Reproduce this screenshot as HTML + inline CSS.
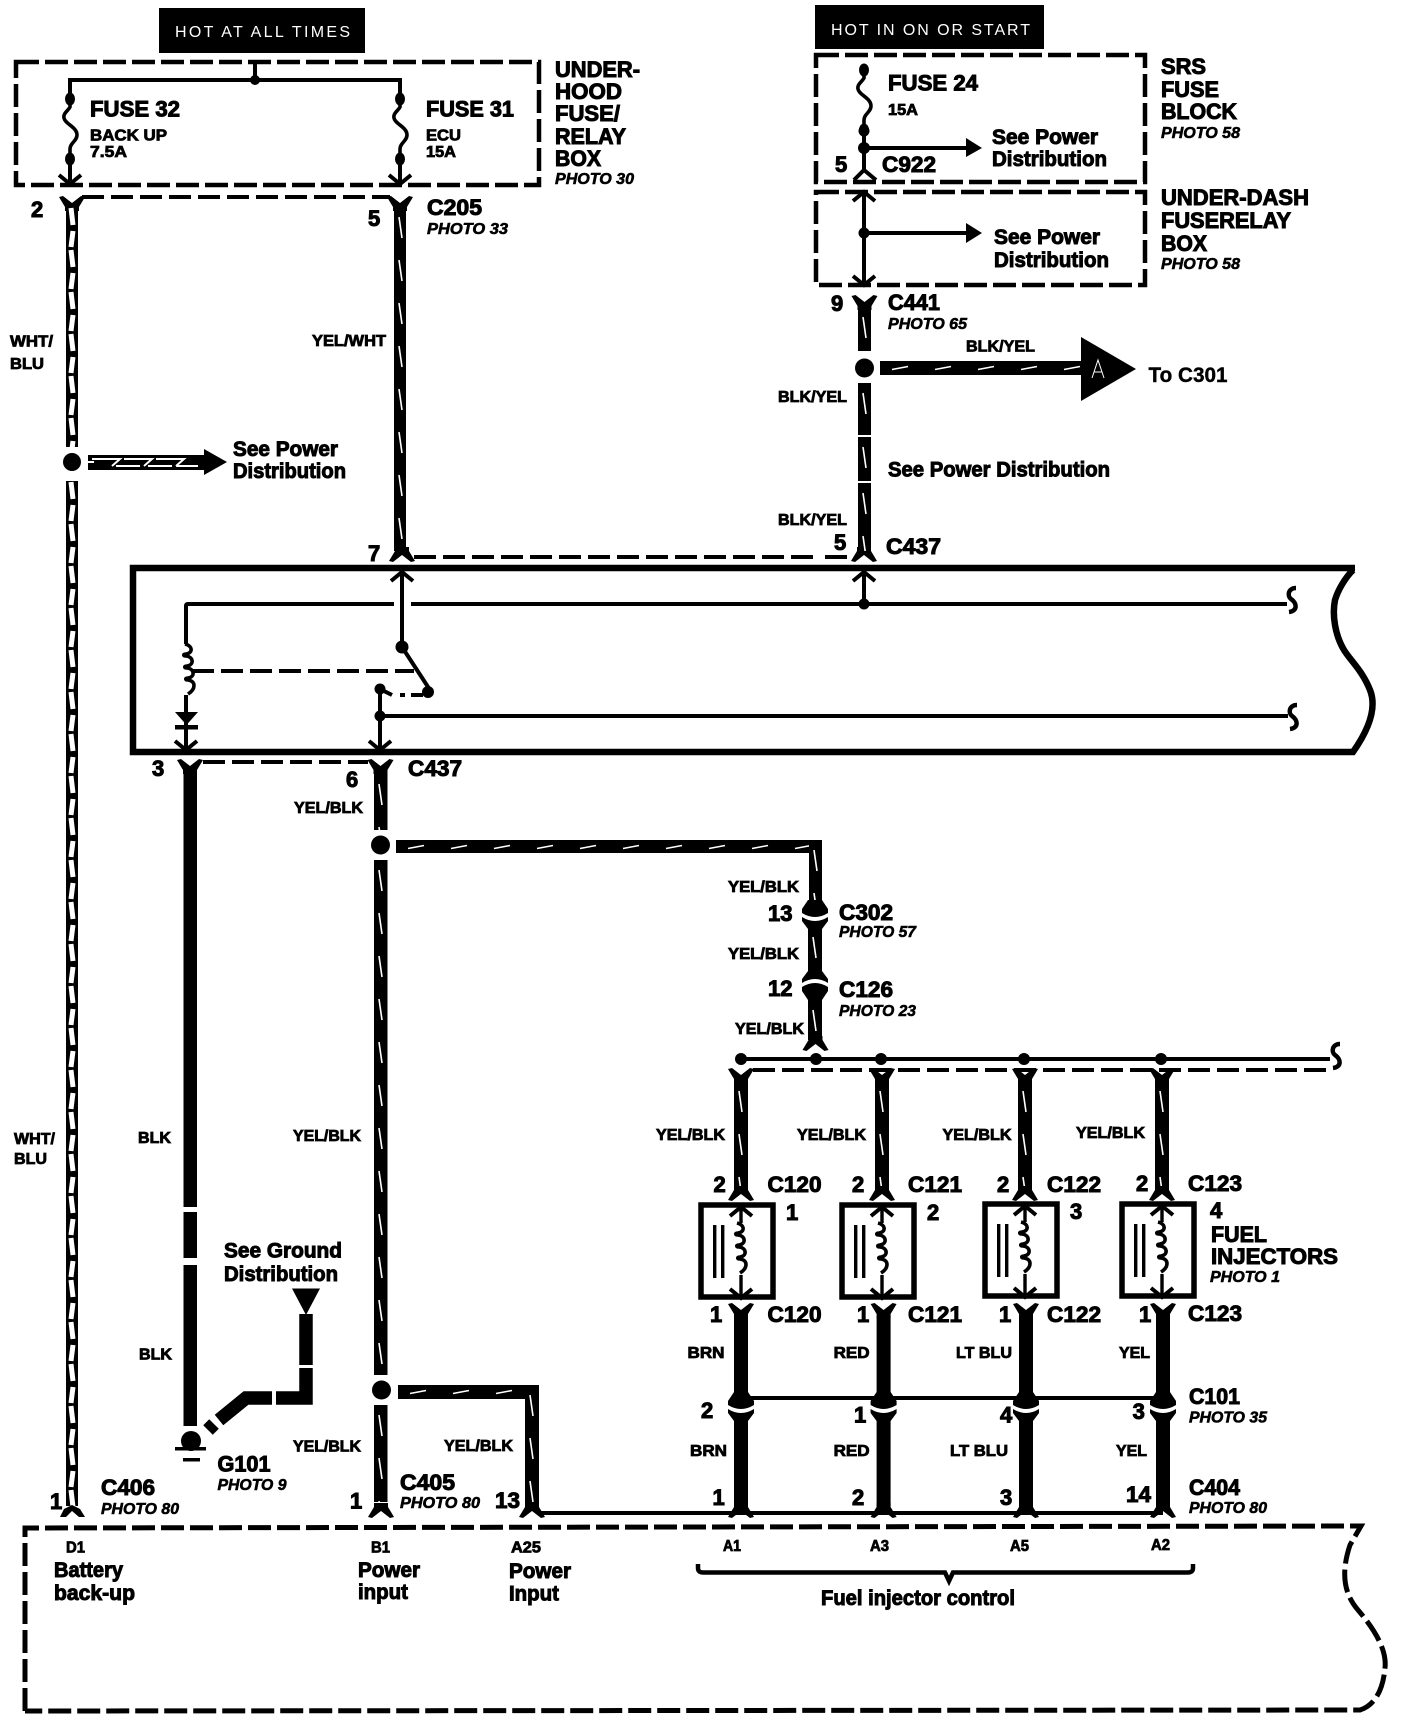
<!DOCTYPE html>
<html><head><meta charset="utf-8"><style>
html,body{margin:0;padding:0;background:#fff;width:1408px;height:1722px;overflow:hidden}
svg{display:block}
text{font-family:"Liberation Sans",sans-serif;font-weight:bold;fill:#000;stroke:#000;stroke-width:1}
.h{font-size:22px}.m{font-size:21.5px}.s{font-size:16px;stroke-width:.8}.p{font-size:16px;font-style:italic;stroke-width:.6}
.w{font-weight:normal;fill:#fff;stroke:none;font-size:16px}
.l{fill:none;stroke:#000;stroke-width:4}
.d{fill:none;stroke:#000;stroke-width:4;stroke-dasharray:22 7}
.bx{fill:none;stroke:#000;stroke-width:4.5;stroke-dasharray:23 6}
</style></head><body>
<svg width="1408" height="1722" viewBox="0 0 1408 1722" xmlns="http://www.w3.org/2000/svg">
<defs>
<pattern id="vw" patternUnits="userSpaceOnUse" width="14" height="43"><rect width="14" height="43" fill="#000"/><path d="M5,10 L8,31" stroke="#fff" stroke-width="1.6"/></pattern>
<pattern id="hw" patternUnits="userSpaceOnUse" width="43" height="14"><rect width="43" height="14" fill="#000"/><path d="M12,8.5 L28,5.5" stroke="#fff" stroke-width="1.6"/></pattern>
<pattern id="wb" patternUnits="userSpaceOnUse" width="12" height="42"><rect width="12" height="42" fill="#000"/><path d="M5,1 L7,18 M7,24 L5,40" fill="none" stroke="#fff" stroke-width="5"/></pattern>
<path id="ad" d="M-11,-9 L0,0 L11,-9" fill="none" stroke="#000" stroke-width="4"/>
<path id="au" d="M-11,9 L0,0 L11,9" fill="none" stroke="#000" stroke-width="4"/>
<path id="ft" d="M-13,0 L-9,-1 L0,6 L9,-1 L13,0 L7,10 L7,14 L-7,14 L-7,10 Z" fill="#000"/>
<path id="fb" d="M-13,0 L-9,1 L0,-6 L9,1 L13,0 L7,-10 L7,-14 L-7,-14 L-7,-10 Z" fill="#000"/>
<path id="cc" d="M-7,-13 L-13,-4 L-13,0 Q0,8 13,0 L13,-4 L7,-13 Z M-13,4 Q0,12 13,4 L13,8 L7,16 L-7,16 L-13,8 Z" fill="#000"/>
<path id="coil" d="M0,0 c8,2 8,9 1,10 c-3,0 -3,2 0,2 c8,1 8,9 1,10 c-3,0 -3,2 0,2 c8,1 8,9 1,10 c-3,0 -3,2 0,2 c8,1 8,9 0,14" fill="none" stroke="#000" stroke-width="3.6"/>
<g id="fuse"><ellipse cx="0" cy="0" rx="5" ry="6.5"/><ellipse cx="0" cy="60" rx="5" ry="6.5"/><path d="M0,0 L0,8 C-2,12 -7,14 -6,19 C-5,25 7,28 7,36 C7,42 0,44 0,50 L0,60" fill="none" stroke="#000" stroke-width="3.6"/></g>
<g id="inj"><rect x="-40" y="0" width="72" height="92" fill="none" stroke="#000" stroke-width="5.5"/><path d="M0,1 V18 M0,70 V93" stroke="#000" stroke-width="3.4"/><use href="#coil" x="-4" y="18"/><path d="M-11,11 L0,2 L11,11 M-11,84 L0,93 L11,84" fill="none" stroke="#000" stroke-width="4"/><rect x="-28" y="20" width="3.4" height="53"/><rect x="-20" y="20" width="3.4" height="53"/></g>
<path id="sq" d="M5,-13 C-3,-13 -4,-5 0,-2 C6,2 7,10 -2,11" fill="none" stroke="#000" stroke-width="4.5"/>
</defs>
<rect width="1408" height="1722" fill="#fff"/>

<!-- header boxes -->
<rect x="159" y="8" width="206" height="45"/>
<text class="w" x="175" y="37" textLength="175" lengthAdjust="spacing">HOT AT ALL TIMES</text>
<rect x="815" y="5" width="229" height="44"/>
<text class="w" x="831" y="35" textLength="199" lengthAdjust="spacing">HOT IN ON OR START</text>

<!-- under-hood box -->
<rect class="bx" x="16" y="62" width="523" height="123"/>
<path class="l" d="M255,62 V80 M70,100 V80 H400 V100"/>
<circle cx="255" cy="80" r="5"/>
<use href="#fuse" x="70" y="99"/><use href="#fuse" x="400" y="99"/>
<path class="l" d="M70,159 V184 M400,159 V184"/>
<use href="#ad" x="70" y="184"/><use href="#ad" x="400" y="184"/>
<text class="h" x="90" y="116.5" textLength="90" lengthAdjust="spacingAndGlyphs">FUSE 32</text>
<text class="s" x="90" y="140.5" textLength="77" lengthAdjust="spacingAndGlyphs">BACK UP</text>
<text class="s" x="90" y="157" textLength="37" lengthAdjust="spacingAndGlyphs">7.5A</text>
<text class="h" x="426" y="116.5" textLength="88" lengthAdjust="spacingAndGlyphs">FUSE 31</text>
<text class="s" x="426" y="140.5" textLength="35" lengthAdjust="spacingAndGlyphs">ECU</text>
<text class="s" x="426" y="157" textLength="30" lengthAdjust="spacingAndGlyphs">15A</text>
<text class="h" x="555" y="77" textLength="85" lengthAdjust="spacingAndGlyphs">UNDER-</text>
<text class="h" x="555" y="99" textLength="67" lengthAdjust="spacingAndGlyphs">HOOD</text>
<text class="h" x="555" y="121" textLength="65" lengthAdjust="spacingAndGlyphs">FUSE/</text>
<text class="h" x="555" y="144" textLength="71" lengthAdjust="spacingAndGlyphs">RELAY</text>
<text class="h" x="555" y="166" textLength="46" lengthAdjust="spacingAndGlyphs">BOX</text>
<text class="p" x="555" y="184" textLength="79" lengthAdjust="spacingAndGlyphs">PHOTO 30</text>

<!-- C205 row -->
<path class="d" d="M82,197 H390"/>
<use href="#ft" x="72" y="197"/><use href="#ft" x="400" y="197"/>
<text class="h" x="31" y="217">2</text>
<text class="h" x="368" y="226">5</text>
<text class="h" x="427" y="215" textLength="55" lengthAdjust="spacingAndGlyphs">C205</text>
<text class="p" x="427" y="234" textLength="81" lengthAdjust="spacingAndGlyphs">PHOTO 33</text>

<!-- WHT/BLU wire -->
<rect transform="translate(66,207)" width="12" height="240" fill="url(#wb)"/>
<rect transform="translate(66,481)" width="12" height="1025" fill="url(#wb)"/>
<circle cx="72" cy="462" r="9"/>
<text class="s" x="10" y="346.5" textLength="43" lengthAdjust="spacingAndGlyphs">WHT/</text>
<text class="s" x="10" y="369" textLength="34" lengthAdjust="spacingAndGlyphs">BLU</text>
<text class="s" x="14" y="1144" textLength="41" lengthAdjust="spacingAndGlyphs">WHT/</text>
<text class="s" x="14" y="1164" textLength="33" lengthAdjust="spacingAndGlyphs">BLU</text>
<!-- see power 1 -->
<rect x="88" y="455" width="116" height="15"/>
<path d="M92,459 H120 L112,466 M124,459 H152 L144,466 M116,466 H140 M156,459 H184 L176,466 M148,466 H172 M176,466 H198 M88,462 H94" fill="none" stroke="#fff" stroke-width="2"/>
<path d="M204,449 L227,462 L204,475 Z"/>
<text class="m" x="233" y="456" textLength="105" lengthAdjust="spacingAndGlyphs">See Power</text>
<text class="m" x="233" y="478" textLength="113" lengthAdjust="spacingAndGlyphs">Distribution</text>

<!-- YEL/WHT -->
<rect transform="translate(394,207)" width="12" height="344" fill="url(#vw)"/>
<text class="s" x="312" y="346" textLength="74" lengthAdjust="spacingAndGlyphs">YEL/WHT</text>
<use href="#fb" x="402" y="561"/>
<text class="h" x="368" y="561">7</text>
<path class="d" d="M414,557 H820 M825,557 H848"/>
<use href="#fb" x="864" y="561"/>

<!-- right column -->
<rect class="bx" x="816" y="55" width="329" height="127"/>
<rect class="bx" x="816" y="192" width="329" height="93"/>
<use href="#fuse" x="864" y="70"/>
<circle cx="864" cy="131" r="5.5"/><circle cx="864" cy="148" r="6"/>
<path class="l" d="M864,131 V171 M864,148 H968"/>
<path d="M966,138 L982,148 L966,157 Z"/>
<path d="M854,180 L864,170 L876,180" fill="none" stroke="#000" stroke-width="4"/>
<text class="h" x="888" y="90.5" textLength="90" lengthAdjust="spacingAndGlyphs">FUSE 24</text>
<text class="s" x="888" y="115" textLength="30" lengthAdjust="spacingAndGlyphs">15A</text>
<text class="m" x="992" y="144" textLength="106" lengthAdjust="spacingAndGlyphs">See Power</text>
<text class="m" x="992" y="166" textLength="115" lengthAdjust="spacingAndGlyphs">Distribution</text>
<text class="h" x="835" y="172">5</text>
<text class="h" x="882" y="172" textLength="54" lengthAdjust="spacingAndGlyphs">C922</text>
<text class="h" x="1161" y="74" textLength="45" lengthAdjust="spacingAndGlyphs">SRS</text>
<text class="h" x="1161" y="97" textLength="58" lengthAdjust="spacingAndGlyphs">FUSE</text>
<text class="h" x="1161" y="119" textLength="76" lengthAdjust="spacingAndGlyphs">BLOCK</text>
<text class="p" x="1161" y="138" textLength="79" lengthAdjust="spacingAndGlyphs">PHOTO 58</text>

<path class="l" d="M864,192 V285 M864,233 H968"/>
<use href="#au" x="864" y="192"/><use href="#ad" x="864" y="285"/>
<circle cx="864" cy="233" r="5.5"/>
<path d="M966,223 L982,233 L966,243 Z"/>
<text class="m" x="994" y="244" textLength="106" lengthAdjust="spacingAndGlyphs">See Power</text>
<text class="m" x="994" y="267" textLength="115" lengthAdjust="spacingAndGlyphs">Distribution</text>
<text class="h" x="1161" y="205" textLength="148" lengthAdjust="spacingAndGlyphs">UNDER-DASH</text>
<text class="h" x="1161" y="228" textLength="130" lengthAdjust="spacingAndGlyphs">FUSERELAY</text>
<text class="h" x="1161" y="251" textLength="46" lengthAdjust="spacingAndGlyphs">BOX</text>
<text class="p" x="1161" y="269" textLength="79" lengthAdjust="spacingAndGlyphs">PHOTO 58</text>

<use href="#ft" x="864.5" y="296"/>
<rect transform="translate(858,307)" width="13" height="44" fill="url(#vw)"/>
<circle cx="864.5" cy="368" r="9.5"/>
<rect transform="translate(858,383)" width="13" height="52" fill="url(#vw)"/>
<rect transform="translate(858,437)" width="13" height="44" fill="url(#vw)"/>
<rect transform="translate(858,483)" width="13" height="68" fill="url(#vw)"/>
<rect transform="translate(880,361)" width="202" height="14" fill="url(#hw)"/>
<path d="M1081,337 L1136,369 L1081,401 Z"/>
<path d="M1092,378 L1098,360 L1104,378 M1094,372 H1102" fill="none" stroke="#fff" stroke-width="1"/>
<text class="h" x="831" y="311">9</text>
<text class="h" x="888" y="310" textLength="52" lengthAdjust="spacingAndGlyphs">C441</text>
<text class="p" x="888" y="329" textLength="79" lengthAdjust="spacingAndGlyphs">PHOTO 65</text>
<text class="s" x="966" y="351.5" textLength="69" lengthAdjust="spacingAndGlyphs">BLK/YEL</text>
<text class="m" x="1148.5" y="382" textLength="79" lengthAdjust="spacingAndGlyphs" style="stroke-width:.4">To C301</text>
<text class="s" x="778" y="402" textLength="69" lengthAdjust="spacingAndGlyphs">BLK/YEL</text>
<text class="m" x="888" y="476.5" textLength="222" lengthAdjust="spacingAndGlyphs">See Power Distribution</text>
<text class="s" x="778" y="525" textLength="69" lengthAdjust="spacingAndGlyphs">BLK/YEL</text>
<text class="h" x="834" y="550">5</text>
<text class="h" x="886" y="554" textLength="55" lengthAdjust="spacingAndGlyphs">C437</text>

<!-- module box -->
<path d="M1355,568 H133 V752 H1353 C1372,725 1376,705 1370,690 C1362,670 1350,660 1344,650 C1335,635 1332,615 1335,600 C1338,590 1345,578 1353,570" fill="none" stroke="#000" stroke-width="6.5"/>
<use href="#au" x="402" y="572"/>
<path class="l" d="M402,572 V647 L430,690 M864,572 V604"/>
<use href="#au" x="864" y="572"/>
<circle cx="402" cy="647" r="6.5"/><circle cx="864" cy="604" r="5.5"/><circle cx="428" cy="692" r="6"/>
<path class="l" d="M186,644 V606 Q186,604 188,604 H394 M411,604 H1287"/>
<use href="#sq" x="1291" y="601"/>
<use href="#coil" x="185" y="644"/>
<path class="d" d="M192,671 H414"/>
<path class="d" d="M423,695 H400" style="stroke-dasharray:12 6"/>
<path class="l" d="M380,689 L392,695"/>
<circle cx="380" cy="689" r="5.5"/>
<path class="l" d="M380,689 V750 M380,716 H1288"/>
<circle cx="380" cy="716" r="5.5"/>
<use href="#sq" x="1292" y="718"/>
<use href="#ad" x="380" y="750"/>
<path class="l" d="M186,695 V750"/>
<path d="M175,712 H198 L186.500,725 Z"/><rect x="175" y="725" width="23" height="4.500"/>
<use href="#ad" x="186" y="750"/>

<!-- lower left wires -->
<use href="#ft" x="190" y="760"/><use href="#ft" x="380.500" y="760"/>
<path class="d" d="M203,762 H368"/>
<text class="h" x="152" y="776">3</text>
<text class="h" x="346" y="787">6</text>
<text class="h" x="408" y="776" textLength="54" lengthAdjust="spacingAndGlyphs">C437</text>
<text class="s" x="294" y="813" textLength="69" lengthAdjust="spacingAndGlyphs">YEL/BLK</text>
<rect x="183.500" y="772" width="13.500" height="435"/>
<rect x="183.500" y="1212" width="13.500" height="46"/>
<rect x="183.500" y="1265" width="13.500" height="161"/>
<text class="s" x="138" y="1143" textLength="33" lengthAdjust="spacingAndGlyphs">BLK</text>
<text class="s" x="139" y="1359.500" textLength="33" lengthAdjust="spacingAndGlyphs">BLK</text>
<rect transform="translate(374,774)" width="13.500" height="56" fill="url(#vw)"/>
<circle cx="380.500" cy="845" r="9.500"/>
<rect transform="translate(374,860)" width="13.500" height="515" fill="url(#vw)"/>
<circle cx="381.500" cy="1390" r="9.500"/>
<rect transform="translate(374,1405)" width="13.500" height="97" fill="url(#vw)"/>
<rect transform="translate(396,840)" width="426" height="13" fill="url(#hw)"/>
<rect transform="translate(809,840)" width="13" height="68" fill="url(#vw)"/>
<text class="s" x="293" y="1141" textLength="68" lengthAdjust="spacingAndGlyphs">YEL/BLK</text>
<text class="s" x="293" y="1451.500" textLength="68" lengthAdjust="spacingAndGlyphs">YEL/BLK</text>
<rect transform="translate(398,1385)" width="141" height="14" fill="url(#hw)"/>
<rect transform="translate(525,1385)" width="14" height="118" fill="url(#vw)"/>
<text class="s" x="444" y="1451" textLength="69" lengthAdjust="spacingAndGlyphs">YEL/BLK</text>

<!-- ground -->
<circle cx="191" cy="1441" r="10"/>
<rect x="175" y="1447" width="31" height="3.500"/><rect x="183" y="1458" width="17" height="3.500"/>
<path d="M208,1430 L214,1424 M219,1420 L246,1398 H272 M276,1398 H306 V1368 M306,1365 V1314" fill="none" stroke="#000" stroke-width="13.500"/>
<path d="M292,1288.500 H320 L306,1315 Z"/>
<text class="m" x="224" y="1257.500" textLength="118" lengthAdjust="spacingAndGlyphs">See Ground</text>
<text class="m" x="224" y="1281" textLength="114" lengthAdjust="spacingAndGlyphs">Distribution</text>
<text class="h" x="217.500" y="1471.500" textLength="53" lengthAdjust="spacingAndGlyphs">G101</text>
<text class="p" x="217.500" y="1490" textLength="69" lengthAdjust="spacingAndGlyphs">PHOTO 9</text>

<!-- C302 / C126 -->
<use href="#cc" x="815" y="913"/>
<rect transform="translate(808,927)" width="14" height="48" fill="url(#vw)"/>
<g transform="translate(815,987) scale(1,-1)"><use href="#cc"/></g>
<rect transform="translate(808,1000)" width="14" height="40" fill="url(#vw)"/>
<use href="#fb" x="815.500" y="1050"/>
<text class="s" x="728" y="892" textLength="71" lengthAdjust="spacingAndGlyphs">YEL/BLK</text>
<text class="h" x="768" y="921">13</text>
<text class="h" x="839" y="920" textLength="54" lengthAdjust="spacingAndGlyphs">C302</text>
<text class="p" x="839" y="937" textLength="77" lengthAdjust="spacingAndGlyphs">PHOTO 57</text>
<text class="s" x="728" y="959" textLength="71" lengthAdjust="spacingAndGlyphs">YEL/BLK</text>
<text class="h" x="768" y="996">12</text>
<text class="h" x="839" y="997" textLength="54" lengthAdjust="spacingAndGlyphs">C126</text>
<text class="p" x="839" y="1016" textLength="77" lengthAdjust="spacingAndGlyphs">PHOTO 23</text>
<text class="s" x="735" y="1034" textLength="69" lengthAdjust="spacingAndGlyphs">YEL/BLK</text>

<!-- bus -->
<path class="l" d="M741,1059 H1330"/>
<use href="#sq" x="1335" y="1057"/>
<circle cx="741" cy="1059" r="6"/><circle cx="816" cy="1059" r="6"/><circle cx="881" cy="1059" r="6"/><circle cx="1024" cy="1059" r="6"/><circle cx="1161" cy="1059" r="6"/>
<path class="d" d="M753,1070 H1326"/>
<use href="#ft" x="741" y="1069"/><use href="#ft" x="882" y="1069"/><use href="#ft" x="1025" y="1069"/><use href="#ft" x="1162" y="1069"/>
<rect transform="translate(734,1081)" width="14" height="111" fill="url(#vw)"/>
<rect transform="translate(875,1081)" width="14" height="111" fill="url(#vw)"/>
<rect transform="translate(1018,1081)" width="14" height="111" fill="url(#vw)"/>
<rect transform="translate(1155,1081)" width="14" height="111" fill="url(#vw)"/>
<use href="#fb" x="741" y="1200"/><use href="#fb" x="882" y="1200"/><use href="#fb" x="1025" y="1200"/><use href="#fb" x="1162" y="1200"/>
<text class="s" x="656" y="1140" textLength="69" lengthAdjust="spacingAndGlyphs">YEL/BLK</text>
<text class="s" x="797" y="1140" textLength="69" lengthAdjust="spacingAndGlyphs">YEL/BLK</text>
<text class="s" x="942.500" y="1140" textLength="69" lengthAdjust="spacingAndGlyphs">YEL/BLK</text>
<text class="s" x="1076" y="1138" textLength="69" lengthAdjust="spacingAndGlyphs">YEL/BLK</text>
<text class="h" x="713.500" y="1192">2</text><text class="h" x="852" y="1192">2</text><text class="h" x="997" y="1192">2</text><text class="h" x="1136" y="1191">2</text>
<text class="h" x="767.500" y="1192" textLength="54" lengthAdjust="spacingAndGlyphs">C120</text>
<text class="h" x="908" y="1192" textLength="54" lengthAdjust="spacingAndGlyphs">C121</text>
<text class="h" x="1047" y="1192" textLength="54" lengthAdjust="spacingAndGlyphs">C122</text>
<text class="h" x="1188" y="1191" textLength="54" lengthAdjust="spacingAndGlyphs">C123</text>

<!-- injectors -->
<use href="#inj" x="741" y="1205"/><use href="#inj" x="882" y="1205"/><use href="#inj" x="1025" y="1204"/><use href="#inj" x="1162" y="1204"/>
<text class="h" x="786" y="1220">1</text><text class="h" x="927" y="1220">2</text><text class="h" x="1070" y="1219">3</text><text class="h" x="1210" y="1218">4</text>
<text class="h" x="1211" y="1242" textLength="56" lengthAdjust="spacingAndGlyphs">FUEL</text>
<text class="h" x="1211" y="1264" textLength="127" lengthAdjust="spacingAndGlyphs">INJECTORS</text>
<text class="p" x="1210" y="1282" textLength="70" lengthAdjust="spacingAndGlyphs">PHOTO 1</text>

<!-- lower injector wires -->
<use href="#ft" x="741" y="1304"/><use href="#ft" x="883.600" y="1304"/><use href="#ft" x="1026" y="1304"/><use href="#ft" x="1163" y="1304"/>
<rect x="734" y="1316" width="14" height="82"/><rect x="876.600" y="1316" width="14" height="82"/><rect x="1019" y="1316" width="14" height="82"/><rect x="1156" y="1316" width="14" height="82"/>
<path class="l" d="M741,1398 H1163"/>
<use href="#cc" x="741" y="1405"/><use href="#cc" x="883.600" y="1405"/><use href="#cc" x="1026" y="1405"/><use href="#cc" x="1163" y="1405"/>
<rect x="734" y="1416" width="14" height="90"/><rect x="876.600" y="1416" width="14" height="90"/><rect x="1019" y="1416" width="14" height="90"/><rect x="1156" y="1416" width="14" height="90"/>
<use href="#fb" x="741" y="1517"/><use href="#fb" x="883.600" y="1517"/><use href="#fb" x="1026" y="1517"/><use href="#fb" x="1163" y="1517"/>
<path class="l" d="M541,1513 H1163"/>
<use href="#fb" x="532" y="1517"/><use href="#fb" x="381" y="1517"/>
<path d="M60,1517 L64,1509 L72,1505 L80,1509 L85,1517 L79,1517 L72,1511 L66,1517 Z"/>

<text class="h" x="710" y="1322">1</text><text class="h" x="857" y="1322">1</text><text class="h" x="999" y="1322">1</text><text class="h" x="1139" y="1322">1</text>
<text class="h" x="767.500" y="1322" textLength="54" lengthAdjust="spacingAndGlyphs">C120</text>
<text class="h" x="908" y="1322" textLength="54" lengthAdjust="spacingAndGlyphs">C121</text>
<text class="h" x="1047" y="1322" textLength="54" lengthAdjust="spacingAndGlyphs">C122</text>
<text class="h" x="1188" y="1321" textLength="54" lengthAdjust="spacingAndGlyphs">C123</text>
<text class="s" x="687.500" y="1358" textLength="37" lengthAdjust="spacingAndGlyphs">BRN</text>
<text class="s" x="833.600" y="1358" textLength="36" lengthAdjust="spacingAndGlyphs">RED</text>
<text class="s" x="956" y="1358" textLength="56" lengthAdjust="spacingAndGlyphs">LT BLU</text>
<text class="s" x="1119" y="1358" textLength="31" lengthAdjust="spacingAndGlyphs">YEL</text>
<text class="h" x="701" y="1418">2</text><text class="h" x="854" y="1422.600">1</text><text class="h" x="1000" y="1422.600">4</text><text class="h" x="1132.600" y="1419">3</text>
<text class="h" x="1189" y="1404" textLength="51" lengthAdjust="spacingAndGlyphs">C101</text>
<text class="p" x="1189" y="1422.600" textLength="78" lengthAdjust="spacingAndGlyphs">PHOTO 35</text>
<text class="s" x="690" y="1456" textLength="37" lengthAdjust="spacingAndGlyphs">BRN</text>
<text class="s" x="833.600" y="1456" textLength="36" lengthAdjust="spacingAndGlyphs">RED</text>
<text class="s" x="950" y="1456" textLength="58" lengthAdjust="spacingAndGlyphs">LT BLU</text>
<text class="s" x="1116" y="1456" textLength="31" lengthAdjust="spacingAndGlyphs">YEL</text>
<text class="h" x="712.500" y="1505">1</text><text class="h" x="852" y="1505">2</text><text class="h" x="1000" y="1505">3</text>
<text class="h" x="1126" y="1502" textLength="25" lengthAdjust="spacingAndGlyphs">14</text>
<text class="h" x="1189" y="1495" textLength="51" lengthAdjust="spacingAndGlyphs">C404</text>
<text class="p" x="1189" y="1513" textLength="78" lengthAdjust="spacingAndGlyphs">PHOTO 80</text>
<text class="h" x="50" y="1509">1</text>
<text class="h" x="101" y="1495" textLength="54" lengthAdjust="spacingAndGlyphs">C406</text>
<text class="p" x="101" y="1514" textLength="78" lengthAdjust="spacingAndGlyphs">PHOTO 80</text>
<text class="h" x="350" y="1508.500">1</text>
<text class="h" x="400" y="1490" textLength="55" lengthAdjust="spacingAndGlyphs">C405</text>
<text class="p" x="400" y="1508" textLength="80" lengthAdjust="spacingAndGlyphs">PHOTO 80</text>
<text class="h" x="495" y="1508" textLength="25" lengthAdjust="spacingAndGlyphs">13</text>

<!-- PCM box -->
<path class="bx" d="M25,1711 V1528 L1361,1526 L1350,1545 C1340,1575 1345,1595 1358,1610 C1375,1630 1387,1650 1385,1668 C1383,1690 1375,1705 1360,1710 L25,1711" style="stroke-width:5"/>
<text class="s" x="66" y="1552.600" textLength="19" lengthAdjust="spacingAndGlyphs">D1</text>
<text class="s" x="371" y="1552.600" textLength="19" lengthAdjust="spacingAndGlyphs">B1</text>
<text class="s" x="511" y="1552.600" textLength="30" lengthAdjust="spacingAndGlyphs">A25</text>
<text class="s" x="723" y="1551" textLength="18" lengthAdjust="spacingAndGlyphs">A1</text>
<text class="s" x="870" y="1551" textLength="19" lengthAdjust="spacingAndGlyphs">A3</text>
<text class="s" x="1010" y="1551" textLength="19" lengthAdjust="spacingAndGlyphs">A5</text>
<text class="s" x="1151" y="1550" textLength="19" lengthAdjust="spacingAndGlyphs">A2</text>
<text class="m" x="54" y="1577" textLength="69" lengthAdjust="spacingAndGlyphs">Battery</text>
<text class="m" x="54" y="1600" textLength="81" lengthAdjust="spacingAndGlyphs">back-up</text>
<text class="m" x="358" y="1577" textLength="62" lengthAdjust="spacingAndGlyphs">Power</text>
<text class="m" x="358" y="1599" textLength="50" lengthAdjust="spacingAndGlyphs">input</text>
<text class="m" x="509" y="1578" textLength="62" lengthAdjust="spacingAndGlyphs">Power</text>
<text class="m" x="509" y="1600.500" textLength="50" lengthAdjust="spacingAndGlyphs">Input</text>
<path d="M698,1564 V1568 Q698,1572.500 703,1572.500 H945 L949,1581 L953,1572.500 H1188 Q1193,1572.500 1193,1568 V1564" fill="none" stroke="#000" stroke-width="4.500"/>
<text class="m" x="821" y="1605" textLength="194" lengthAdjust="spacingAndGlyphs">Fuel injector control</text>
</svg>
</body></html>
